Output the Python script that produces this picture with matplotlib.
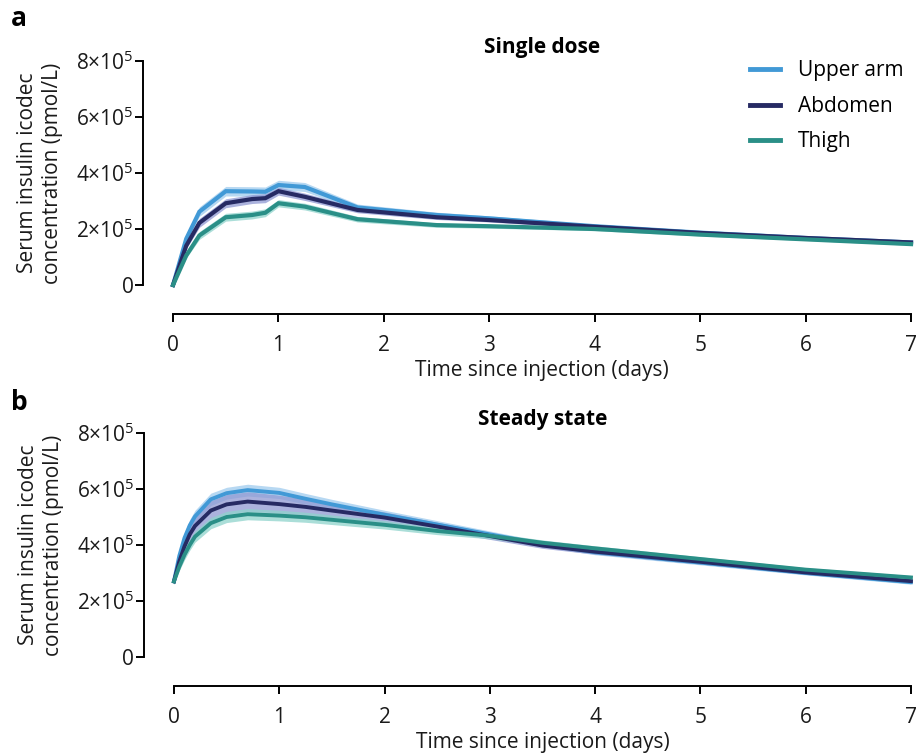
import matplotlib

matplotlib.use("Agg")
import matplotlib.pyplot as plt
from matplotlib.ticker import FuncFormatter

plt.rcParams["font.family"] = ["Open Sans", "DejaVu Sans"]
plt.rcParams["mathtext.fontset"] = "custom"
plt.rcParams["mathtext.rm"] = "Open Sans"
plt.rcParams["mathtext.it"] = "Open Sans"

# sites and colours
sites = ["Upper arm", "Abdomen", "Thigh"]
line_colors = ["#4199d6", "#262a63", "#2a8f87"]
band_colors = ["#9fcbee", "#8f98d2", "#8fd3cc"]

# panel a: single dose (values x1e5 pmol/L)
t_single = [0, 0.125, 0.25, 0.5, 0.75, 0.875, 1, 1.25, 1.75, 2.5, 3, 4, 5, 6, 7]
single_upper = [0, 1.65, 2.62, 3.35, 3.34, 3.33, 3.57, 3.50, 2.77, 2.50, 2.38, 2.10, 1.87, 1.68, 1.52]
single_abdo = [0, 1.40, 2.22, 2.92, 3.07, 3.10, 3.35, 3.15, 2.68, 2.42, 2.32, 2.08, 1.86, 1.68, 1.52]
single_thigh = [0, 1.05, 1.77, 2.42, 2.50, 2.58, 2.92, 2.80, 2.35, 2.14, 2.10, 2.00, 1.80, 1.63, 1.46]
single_upper_se = [0, 0.11, 0.17, 0.17, 0.17, 0.17, 0.17, 0.16, 0.12, 0.10, 0.09, 0.07, 0.06, 0.05, 0.05]
single_abdo_se = [0, 0.11, 0.16, 0.16, 0.16, 0.16, 0.14, 0.13, 0.10, 0.08, 0.07, 0.06, 0.05, 0.04, 0.04]
single_thigh_se = [0, 0.09, 0.14, 0.14, 0.14, 0.14, 0.13, 0.12, 0.10, 0.08, 0.07, 0.06, 0.05, 0.04, 0.04]

# panel b: steady state (values x1e5 pmol/L)
t_steady = [0, 0.05, 0.1, 0.15, 0.2, 0.35, 0.5, 0.7, 1, 1.25, 1.5, 2, 2.5, 3, 3.5, 4, 5, 6, 7]
steady_upper = [2.70, 3.60, 4.25, 4.70, 5.02, 5.63, 5.85, 5.96, 5.86, 5.65, 5.45, 5.08, 4.73, 4.38,
                4.03, 3.74, 3.37, 3.00, 2.67]
steady_abdo = [2.70, 3.40, 3.95, 4.38, 4.68, 5.23, 5.45, 5.55, 5.46, 5.36, 5.23, 4.98, 4.66, 4.32,
               3.98, 3.76, 3.40, 3.02, 2.71]
steady_thigh = [2.70, 3.22, 3.65, 4.00, 4.30, 4.78, 5.00, 5.10, 5.05, 4.99, 4.90, 4.72, 4.50, 4.33,
                4.08, 3.88, 3.50, 3.12, 2.84]
steady_upper_se = [0.10, 0.15, 0.20, 0.21, 0.22, 0.22, 0.21, 0.21, 0.20, 0.19, 0.18, 0.16, 0.14, 0.12,
                   0.10, 0.09, 0.08, 0.07, 0.07]
steady_abdo_se = [0.10, 0.18, 0.25, 0.29, 0.32, 0.35, 0.35, 0.35, 0.32, 0.28, 0.25, 0.20, 0.15, 0.12,
                  0.10, 0.09, 0.08, 0.07, 0.07]
steady_thigh_se = [0.10, 0.14, 0.18, 0.19, 0.20, 0.20, 0.20, 0.20, 0.19, 0.18, 0.17, 0.15, 0.13, 0.11,
                   0.10, 0.09, 0.08, 0.07, 0.07]

y_ticks = [0, 2, 4, 6, 8]
x_ticks = [0, 1, 2, 3, 4, 5, 6, 7]

FS = 15


def fmt(v, _pos):
    if v == 0:
        return "0"
    return f"{v / 1e5:.0f}×10$^5$"


def draw(ax, t, series, ses, title, lw, join):
    for vals, se, bc in zip(series, ses, band_colors):
        lo = [(v - s) * 1e5 for v, s in zip(vals, se)]
        hi = [(v + s) * 1e5 for v, s in zip(vals, se)]
        ax.fill_between(t, lo, hi, color=bc, alpha=0.75, linewidth=0, clip_on=False)
    for vals, name, lc in zip(series, sites, line_colors):
        ax.plot(t, [v * 1e5 for v in vals], color=lc, linewidth=lw, label=name,
                clip_on=False, solid_joinstyle=join)
    ax.set_xlim(0, 7)
    ax.set_ylim(0, 8e5)
    ax.set_xticks(x_ticks)
    ax.set_yticks([v * 1e5 for v in y_ticks])
    ax.yaxis.set_major_formatter(FuncFormatter(fmt))
    for s in ["top", "right"]:
        ax.spines[s].set_visible(False)
    ax.spines["left"].set_position(("outward", 21.5))
    ax.spines["bottom"].set_position(("outward", 21))
    ax.spines["left"].set_bounds(0, 8e5)
    ax.spines["bottom"].set_bounds(0, 7)
    for s in ["left", "bottom"]:
        ax.spines[s].set_linewidth(1.4)
    ax.tick_params(axis="both", length=5.5, width=1.4, labelsize=FS, colors="#000000",
                   labelcolor="#1a1a1a")
    ax.tick_params(axis="y", pad=1.5)
    ax.tick_params(axis="x", pad=9.5)
    ax.set_xlabel("Time since injection (days)", fontsize=FS, color="#1a1a1a", labelpad=3)
    ax.set_ylabel("Serum insulin icodec\nconcentration (pmol/L)", fontsize=FS,
                  color="#1a1a1a", labelpad=9, linespacing=1.3)
    ax.set_title(title, fontsize=FS, fontweight="bold", pad=6)


fig = plt.figure(figsize=(9.17, 7.53), dpi=100)
ax1 = fig.add_axes([0.1887, 0.6215, 0.8048, 0.2975])
ax2 = fig.add_axes([0.1897, 0.1275, 0.8037, 0.2975])

draw(ax1, t_single, [single_upper, single_abdo, single_thigh],
     [single_upper_se, single_abdo_se, single_thigh_se], "Single dose", 3.0, "miter")
draw(ax2, t_steady, [steady_upper, steady_abdo, steady_thigh],
     [steady_upper_se, steady_abdo_se, steady_thigh_se], "Steady state", 2.8, "round")

leg = ax1.legend(loc="upper right", bbox_to_anchor=(1.015, 1.087), frameon=False, fontsize=FS,
                 handlelength=1.45, handletextpad=0.85, labelspacing=0.7)
for h in leg.get_lines():
    h.set_linewidth(3.5)

fig.text(0.012, 0.975, "a", fontsize=19, fontweight="bold", va="center")
fig.text(0.012, 0.466, "b", fontsize=19, fontweight="bold", va="center")

fig.savefig("out.png", dpi=100)
